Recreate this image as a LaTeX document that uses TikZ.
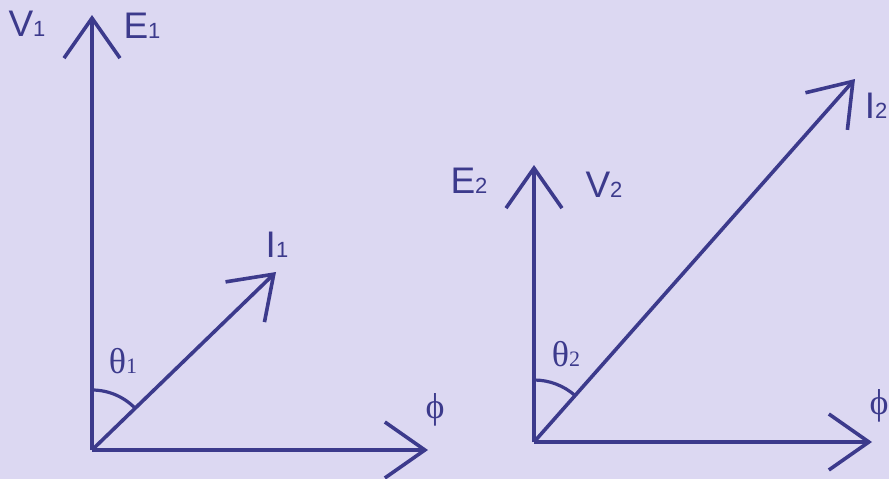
\documentclass[tikz,border=0pt]{standalone}
\usepackage{fontspec}
\setmainfont{Liberation Serif}
\setsansfont{Liberation Sans}
\usetikzlibrary{arrows.meta}
\definecolor{phbg}{RGB}{220,216,242}
\definecolor{phline}{RGB}{60,58,140}

\tikzset{
  vec/.style={phline,line width=3.6pt,-{Straight Barb[length=40pt,width=56pt,line width=3.6pt]}},
  anglearc/.style={phline,line width=3.2pt},
  sflabel/.style={phline,font=\sffamily\fontsize{37}{40}\selectfont,inner sep=0pt},
  rmlabel/.style={phline,font=\rmfamily\fontsize{36}{40}\selectfont,inner sep=0pt}
}
\newcommand{\lowsub}[1]{{\fontsize{22}{24}\selectfont #1}}

\begin{document}
\begin{tikzpicture}[x=1pt,y=-1pt]
  \fill[phbg] (0,0) rectangle (889,479);
  \useasboundingbox (0,0) rectangle (889,479);
  % Left diagram: V1 and E1 in phase
  \coordinate (O1) at (92,450);
  \coordinate (E1) at (92,15);
  \coordinate (F1) at (428,450);
  \coordinate (I1) at (276,272);
  \draw[vec] (O1) -- (E1);
  \draw[vec] (O1) -- (F1);
  \draw[vec] (O1) -- (I1);
  \draw[anglearc] (O1) ++(0,-60) arc[start angle=90,end angle=44,radius=60pt];
  \node[sflabel] (v1lab) at (27,24) {V\lowsub{1}};
  \node[sflabel] (e1lab) at (142,26) {E\lowsub{1}};
  \node[sflabel] (i1lab) at (277,245) {I\lowsub{1}};
  \node[rmlabel] (t1lab) at (123,361) {θ\lowsub{1}};
  \node[rmlabel] (f1lab) at (435,410) {ϕ};
  %
  % Right diagram: E2 and V2 in phase
  \coordinate (O2) at (534,442);
  \coordinate (E2) at (534,165);
  \coordinate (F2) at (872,442);
  \coordinate (I2) at (855,79);
  \draw[vec] (O2) -- (E2);
  \draw[vec] (O2) -- (F2);
  \draw[vec] (O2) -- (I2);
  \draw[anglearc] (O2) ++(0,-62) arc[start angle=90,end angle=48.6,radius=62pt];
  \node[sflabel] (e2lab) at (469,181) {E\lowsub{2}};
  \node[sflabel] (v2lab) at (604,185) {V\lowsub{2}};
  \node[sflabel] (i2lab) at (876,106) {I\lowsub{2}};
  \node[rmlabel] (t2lab) at (566,354) {θ\lowsub{2}};
  \node[rmlabel] (f2lab) at (879,406) {ϕ};
\end{tikzpicture}
\end{document}
